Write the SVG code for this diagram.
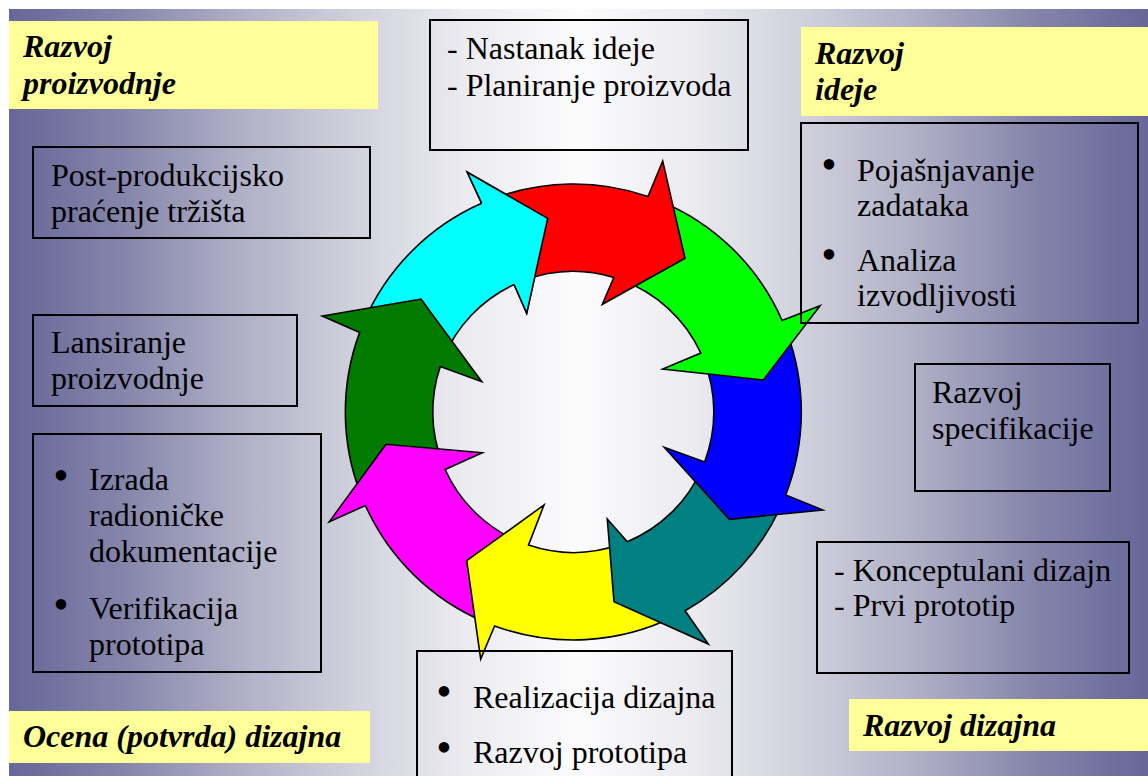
<svg xmlns="http://www.w3.org/2000/svg" width="1148" height="776" viewBox="0 0 1148 776">
  <defs>
    <linearGradient id="bg" x1="9" y1="0" x2="1148" y2="0" gradientUnits="userSpaceOnUse">
      <stop offset="0" stop-color="#666699"/>
      <stop offset="0.1" stop-color="#8585ab"/>
      <stop offset="0.2" stop-color="#aeaec6"/>
      <stop offset="0.3" stop-color="#d0d0dc"/>
      <stop offset="0.4" stop-color="#ebebf0"/>
      <stop offset="0.5" stop-color="#fcfcfd"/>
      <stop offset="0.6" stop-color="#ebebf0"/>
      <stop offset="0.7" stop-color="#d0d0dc"/>
      <stop offset="0.8" stop-color="#aeaec6"/>
      <stop offset="0.9" stop-color="#8585ab"/>
      <stop offset="1" stop-color="#666699"/>
    </linearGradient>
    <style>
      .box { fill: none; stroke: #000; stroke-width: 2; }
      .label { fill: #ffff99; }
      .t { font-family: "Liberation Serif", "Times New Roman", serif; font-size: 32px; fill: #000; }
      .h { font-family: "Liberation Serif", "Times New Roman", serif; font-size: 32px; font-weight: bold; font-style: italic; fill: #000; }
      .b { font-family: "Liberation Serif", "Times New Roman", serif; font-size: 44px; fill: #000; text-anchor: middle; }
      .arr { stroke: #000; stroke-width: 1.6; stroke-linejoin: miter; stroke-miterlimit: 10; }
    </style>
  </defs>

  <!-- page background -->
  <rect x="0" y="0" width="1148" height="776" fill="#ffffff"/>
  <rect x="9" y="9" width="1139" height="767" fill="url(#bg)"/>

  <!-- phase labels -->
  <g id="label-razvoj-proizvodnje">
    <rect class="label" x="9" y="21" width="369" height="88"/>
    <text class="h" x="23" y="57">Razvoj</text>
    <text class="h" x="23" y="94">proizvodnje</text>
  </g>
  <g id="label-razvoj-ideje">
    <rect class="label" x="801" y="27" width="347" height="89"/>
    <text class="h" x="815" y="64">Razvoj</text>
    <text class="h" x="815" y="100">ideje</text>
  </g>
  <g id="label-ocena-dizajna">
    <rect class="label" x="9" y="711" width="361" height="52"/>
    <text class="h" x="23" y="747">Ocena (potvrda) dizajna</text>
  </g>
  <g id="label-razvoj-dizajna">
    <rect class="label" x="849" y="699" width="299" height="52"/>
    <text class="h" x="863" y="736">Razvoj dizajna</text>
  </g>

  <!-- circular cycle of eight arrows, clockwise -->
  <g id="connectors">
    <path class="arr" fill="#00ffff" d="M364.16,321.33 A228,228 0 0 1 481.7,203.3 L467.3,172.3 L547.7,218.3 L526.7,313.3 L514.1,284.5 A140.5,140.5 0 0 0 442.86,359.6 Z"/>
    <path class="arr" fill="#007a00" d="M360.79,494.49 A228,228 0 0 1 359.7,332.4 L322.3,316 L421,299 L481.7,381.7 L440.3,366.5 A140.5,140.5 0 0 0 442.27,462.71 Z"/>
    <path class="arr" fill="#ff00ff" d="M483.51,621.49 A228,228 0 0 1 365.4,505.5 L329.3,521.7 L386,444.3 L482.3,452.7 L445.1,469.5 A140.5,140.5 0 0 0 521.59,542.58 Z"/>
    <path class="arr" fill="#ffff00" d="M674.55,616.28 A228,228 0 0 1 494.6,625.9 L480.7,659 L466.7,560.7 L544,505 L528.5,545.1 A140.5,140.5 0 0 0 620.44,544.35 Z"/>
    <path class="arr" fill="#008080" d="M781.07,505.91 A228,228 0 0 1 685.1,610.7 L708.3,644 L614,601.7 L607.3,519 L627.3,541.7 A140.5,140.5 0 0 0 701.91,468.71 Z"/>
    <path class="arr" fill="#0000ff" d="M786.6,331.56 A228,228 0 0 1 785.7,494.9 L822.7,510 L729.3,519.3 L664.3,447.3 L704.7,461.9 A140.5,140.5 0 0 0 703.72,359.75 Z"/>
    <path class="arr" fill="#00ff00" d="M659.18,200.71 A228,228 0 0 1 782.1,320.5 L820,305.7 L763.3,380 L662.7,369 L700.8,353 A140.5,140.5 0 0 0 620.75,279.8 Z"/>
    <path class="arr" fill="#ff0000" d="M492.75,198.8 A228,228 0 0 1 648,196.5 L662.7,161 L685,258.3 L602.3,304.3 L613.8,277.5 A140.5,140.5 0 0 0 520.85,281.57 Z"/>
    <!-- cyan head closes the loop over the red tail -->
    <polygon fill="#00ffff" points="481.7,203.3 467.3,172.3 547.7,218.3 526.7,313.3 514.1,284.5"/>
    <polyline class="arr" fill="none" points="481.7,203.3 467.3,172.3 547.7,218.3 526.7,313.3 514.1,284.5"/>
  </g>

  <!-- text boxes -->
  <g id="node-nastanak-ideje">
    <rect class="box" x="430" y="20" width="318" height="130"/>
    <text class="t" x="447" y="59">- Nastanak ideje</text>
    <text class="t" x="447" y="96">- Planiranje proizvoda</text>
  </g>
  <g id="node-pojasnjavanje">
    <rect class="box" x="801" y="123" width="337" height="200"/>
    <text class="b" x="829" y="179">•</text>
    <text class="t" x="857" y="181">Pojašnjavanje</text>
    <text class="t" x="857" y="216">zadataka</text>
    <text class="b" x="829" y="269">•</text>
    <text class="t" x="857" y="271">Analiza</text>
    <text class="t" x="857" y="306">izvodljivosti</text>
  </g>
  <g id="node-specifikacija">
    <rect class="box" x="915" y="364" width="195" height="127"/>
    <text class="t" x="932" y="403">Razvoj</text>
    <text class="t" x="932" y="439">specifikacije</text>
  </g>
  <g id="node-konceptualni">
    <rect class="box" x="817" y="542" width="312" height="131"/>
    <text class="t" x="834" y="581">- Konceptulani dizajn</text>
    <text class="t" x="834" y="616">- Prvi prototip</text>
  </g>
  <g id="node-realizacija">
    <rect class="box" x="417" y="651" width="315" height="140"/>
    <text class="b" x="444" y="706">•</text>
    <text class="t" x="473" y="708">Realizacija dizajna</text>
    <text class="b" x="444" y="762">•</text>
    <text class="t" x="473" y="763">Razvoj prototipa</text>
  </g>
  <g id="node-izrada">
    <rect class="box" x="33" y="434" width="288" height="238"/>
    <text class="b" x="61" y="490">•</text>
    <text class="t" x="89" y="490">Izrada</text>
    <text class="t" x="89" y="526">radioničke</text>
    <text class="t" x="89" y="562">dokumentacije</text>
    <text class="b" x="61" y="619">•</text>
    <text class="t" x="89" y="619">Verifikacija</text>
    <text class="t" x="89" y="655">prototipa</text>
  </g>
  <g id="node-lansiranje">
    <rect class="box" x="33" y="315" width="264" height="91"/>
    <text class="t" x="51" y="353">Lansiranje</text>
    <text class="t" x="51" y="389">proizvodnje</text>
  </g>
  <g id="node-post-produkcija">
    <rect class="box" x="33" y="147" width="337" height="91"/>
    <text class="t" x="51" y="186">Post-produkcijsko</text>
    <text class="t" x="51" y="222">praćenje tržišta</text>
  </g>
</svg>
